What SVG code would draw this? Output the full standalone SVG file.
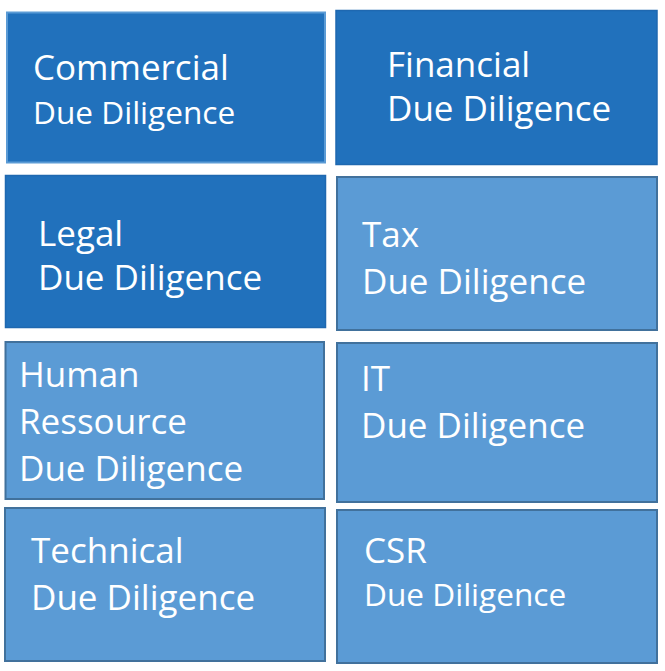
<svg xmlns="http://www.w3.org/2000/svg" width="665" height="671" viewBox="0 0 665 671">
<style>
.dark{fill:#2171BC;stroke:#1F68B0;stroke-width:1.5}
.comm{fill:#2171BC;stroke:#5B9BD5;stroke-width:2}
.light{fill:#5B9BD5;stroke:#41719C;stroke-width:2}
text{font-family:"Open Sans","Noto Sans","Liberation Sans",sans-serif;fill:#FFFFFF}
.big{font-size:35px}
.small{font-size:31.6px}
</style>
<rect width="665" height="671" fill="#FFFFFF"/>
<g id="commercial">
<rect class="comm" x="7" y="12.5" width="318" height="150"/>
<text class="big" x="33" y="80">Commercial</text>
<text class="small" x="33" y="124">Due Diligence</text>
</g>
<g id="financial">
<rect class="dark" x="336" y="10.5" width="321" height="154"/>
<text class="big" x="387" y="77">Financial</text>
<text class="big" x="387" y="121">Due Diligence</text>
</g>
<g id="legal">
<rect class="dark" x="5.5" y="175.5" width="320" height="152"/>
<text class="big" x="38" y="246">Legal</text>
<text class="big" x="38" y="290">Due Diligence</text>
</g>
<g id="tax">
<rect class="light" x="337" y="177" width="320" height="153"/>
<text class="big" x="362" y="247">Tax</text>
<text class="big" x="362" y="294">Due Diligence</text>
</g>
<g id="human-ressource">
<rect class="light" x="5.5" y="342" width="318.5" height="157"/>
<text class="big" x="19" y="387">Human</text>
<text class="big" x="19" y="434">Ressource</text>
<text class="big" x="19" y="481">Due Diligence</text>
</g>
<g id="it">
<rect class="light" x="337" y="343" width="320" height="159"/>
<text class="big" x="361" y="391">IT</text>
<text class="big" x="361" y="438">Due Diligence</text>
</g>
<g id="technical">
<rect class="light" x="5" y="508" width="320" height="153"/>
<text class="big" x="31" y="563">Technical</text>
<text class="big" x="31" y="610">Due Diligence</text>
</g>
<g id="csr">
<rect class="light" x="337" y="510" width="320" height="153"/>
<text class="big" x="364" y="563">CSR</text>
<text class="small" x="364" y="606">Due Diligence</text>
</g>
<g id="connectors"/>
</svg>
